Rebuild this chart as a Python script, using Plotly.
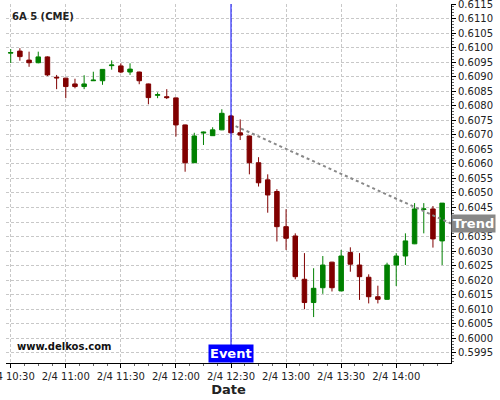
import pandas as pd
import plotly.graph_objects as go

# 5-minute candles, 2/4 10:30 .. 14:25
times = pd.date_range("2025-02-04 10:30", periods=48, freq="5min")

opens = [0.60981, 0.60988, 0.60957, 0.60948, 0.60968, 0.60898, 0.60895, 0.60875,
         0.60866, 0.60886, 0.60886, 0.60938, 0.60937, 0.60916, 0.60916, 0.60875,
         0.60836, 0.60831, 0.60827, 0.60734, 0.60604, 0.60706, 0.60697, 0.60717,
         0.60765, 0.60707, 0.60696, 0.60604, 0.60545, 0.60505, 0.60384, 0.60352,
         0.60203, 0.60123, 0.60174, 0.60262, 0.60163, 0.60295, 0.60252, 0.60210,
         0.60143, 0.60134, 0.60252, 0.60283, 0.60325, 0.60443, 0.60445, 0.60335]
highs = [0.60995, 0.60998, 0.60986, 0.60986, 0.60970, 0.60906, 0.60896, 0.60893,
         0.60905, 0.60917, 0.60925, 0.60956, 0.60946, 0.60946, 0.60917, 0.60876,
         0.60846, 0.60857, 0.60828, 0.60735, 0.60707, 0.60711, 0.60726, 0.60788,
         0.60768, 0.60753, 0.60697, 0.60623, 0.60564, 0.60513, 0.60444, 0.60361,
         0.60293, 0.60241, 0.60283, 0.60263, 0.60304, 0.60313, 0.60293, 0.60220,
         0.60181, 0.60260, 0.60293, 0.60361, 0.60465, 0.60465, 0.60455, 0.60465]
lows = [0.60947, 0.60955, 0.60934, 0.60946, 0.60902, 0.60857, 0.60826, 0.60860,
        0.60857, 0.60885, 0.60872, 0.60924, 0.60912, 0.60906, 0.60874, 0.60805,
        0.60826, 0.60823, 0.60694, 0.60573, 0.60603, 0.60665, 0.60696, 0.60716,
        0.60705, 0.60682, 0.60564, 0.60522, 0.60432, 0.60333, 0.60304, 0.60203,
        0.60100, 0.60073, 0.60153, 0.60161, 0.60162, 0.60229, 0.60132, 0.60120,
        0.60120, 0.60133, 0.60180, 0.60252, 0.60324, 0.60361, 0.60312, 0.60252]
closes = [0.60983, 0.60969, 0.60948, 0.60968, 0.60906, 0.60896, 0.60866, 0.60866,
          0.60875, 0.60888, 0.60925, 0.60940, 0.60916, 0.60926, 0.60886, 0.60828,
          0.60838, 0.60828, 0.60734, 0.60604, 0.60696, 0.60709, 0.60717, 0.60774,
          0.60707, 0.60699, 0.60604, 0.60535, 0.60493, 0.60384, 0.60344, 0.60212,
          0.60123, 0.60172, 0.60252, 0.60174, 0.60283, 0.60255, 0.60212, 0.60143,
          0.60134, 0.60252, 0.60283, 0.60335, 0.60445, 0.60445, 0.60342, 0.60465]

trend_x = ["2025-02-04 12:32:30", "2025-02-04 14:29:50"]
trend_y = [0.6073, 0.60395]
event_time = "2025-02-04 12:30:00"

FONT = "DejaVu Sans"

fig = go.Figure()

fig.add_trace(go.Candlestick(
    x=times,
    open=opens,
    high=highs,
    low=lows,
    close=closes,
    increasing=dict(line=dict(color="#008000", width=1), fillcolor="#008000"),
    decreasing=dict(line=dict(color="#800000", width=1), fillcolor="#800000"),
    showlegend=False
))

fig.add_trace(go.Scatter(
    x=trend_x,
    y=trend_y,
    mode="lines",
    line=dict(color="#888888", width=2, dash="dot"),
    showlegend=False
))

# event marker
fig.add_shape(type="line", x0=event_time, x1=event_time, y0=0, y1=1,
              xref="x", yref="paper", line=dict(color="#0000ff", width=1))

fig.add_annotation(x=event_time, y=0, xref="x", yref="paper",
                   xanchor="center", yanchor="bottom", text="<b>Event</b>",
                   showarrow=False, bgcolor="#0000ff",
                   font=dict(family=FONT, size=13, color="white"), borderpad=1)

fig.add_annotation(x=1, y=trend_y[-1], xref="paper", yref="y",
                   xanchor="left", yanchor="middle", text="<b>Trend</b>",
                   showarrow=False, bgcolor="#888888",
                   font=dict(family=FONT, size=13, color="white"), borderpad=1)

fig.add_annotation(x=0.01, y=0.985, xref="paper", yref="paper",
                   xanchor="left", yanchor="top", text="<b>6A 5 (CME)</b>",
                   showarrow=False, font=dict(family=FONT, size=10, color="#222222"))

fig.add_annotation(x=0.02, y=0.025, xref="paper", yref="paper",
                   xanchor="left", yanchor="bottom", text="<b>www.delkos.com</b>",
                   showarrow=False, font=dict(family=FONT, size=10, color="#111111"))

fig.update_layout(
    width=500,
    height=400,
    margin=dict(l=6, r=49, t=4, b=37),
    plot_bgcolor="white",
    paper_bgcolor="white",
    font=dict(family=FONT, size=10, color="#222222"),
    xaxis=dict(
        type="date",
        range=["2025-02-04 10:27:26", "2025-02-04 14:29:50"],
        rangeslider=dict(visible=False),
        tick0="2025-02-04 10:30",
        dtick=1800000,
        tickformat="%-m/%-d %H:%M",
        ticks="outside",
        ticklen=4,
        tickcolor="black",
        ticklabeloverflow="allow",
        automargin=False,
        showgrid=True,
        gridcolor="#c8c8c8",
        griddash="3px,2px",
        showline=True,
        linecolor="black",
        linewidth=1,
        minor=dict(dtick=450000, ticks="outside", ticklen=2, tickcolor="#666666", showgrid=False),
        title=dict(text="<b>Date</b>", font=dict(family=FONT, size=13, color="#222222"), standoff=2),
        zeroline=False,
    ),
    yaxis=dict(
        side="right",
        range=[0.59915, 0.6115],
        dtick=0.0005,
        tick0=0.6,
        tickformat=".4f",
        ticks="outside",
        ticklen=4,
        tickcolor="black",
        ticklabeloverflow="allow",
        automargin=False,
        showgrid=True,
        gridcolor="#c8c8c8",
        griddash="3px,2px",
        showline=True,
        linecolor="black",
        linewidth=1,
        minor=dict(dtick=0.0001, ticks="outside", ticklen=2, tickcolor="#666666", showgrid=False),
        zeroline=False,
    ),
)

fig.write_html("out.html", config={"displayModeBar": False},
               post_script="document.body.style.margin='0px';")
